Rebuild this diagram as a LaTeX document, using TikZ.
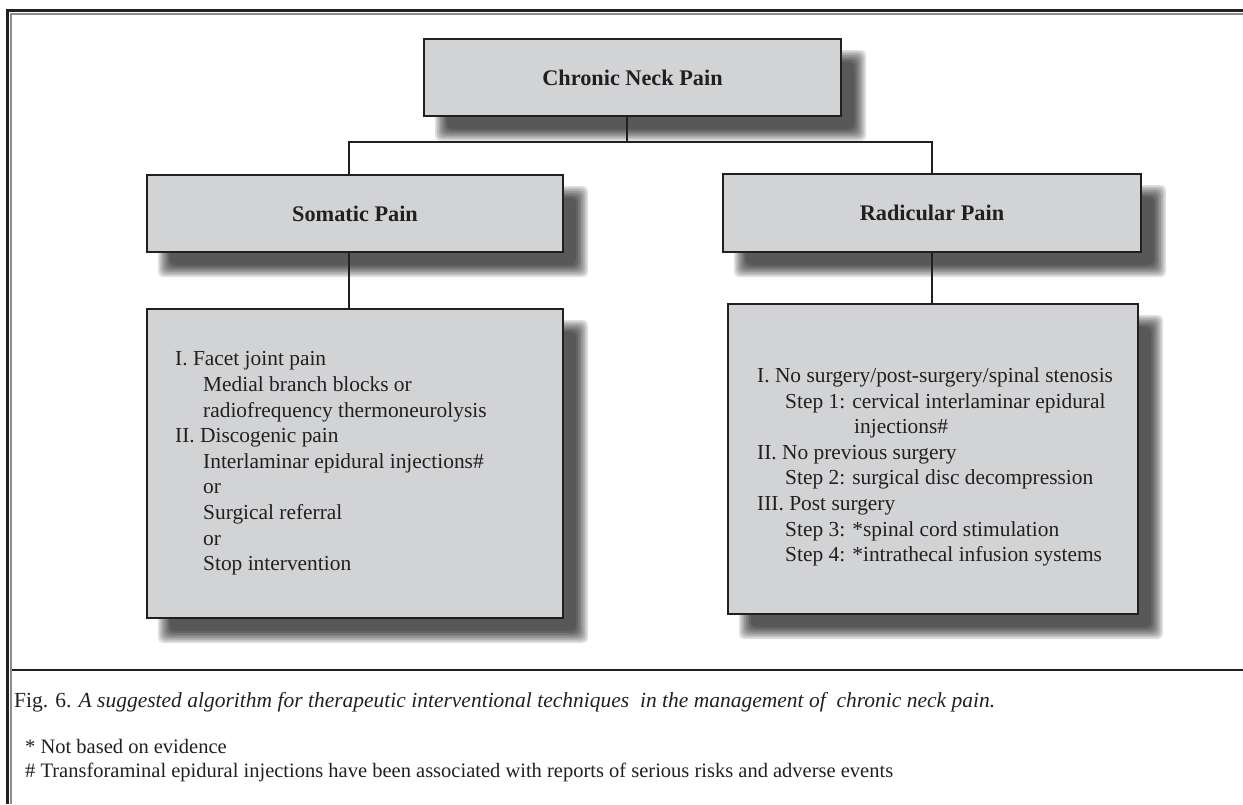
\documentclass[tikz,border=0pt]{standalone}
\usepackage{fontspec}
\setmainfont{Liberation Serif}
\definecolor{ink}{HTML}{231F20}
\definecolor{boxfill}{HTML}{D1D3D4}
\definecolor{framegray}{HTML}{8C8C8C}
\pgfdeclarelayer{bg}
\pgfsetlayers{bg,main}
\tikzset{
  box/.style={draw=ink, fill=boxfill, line width=2pt, anchor=north west, inner sep=0pt},
  titletext/.style={font={\fontsize{22.3}{26}\selectfont\bfseries}, text=ink},
  bodytext/.style={font={\fontsize{21.4}{25.6}\selectfont}, text=ink, align=left, inner sep=0pt},
  capttext/.style={font={\fontsize{21.5}{26}\selectfont}, text=ink, inner sep=0pt, anchor=base west},
  conn/.style={draw=ink, line width=2.4pt},
}
\newcommand\softshadow[1]{%
  \foreach \k in {0,...,7}{%
    \fill[black, opacity=0.125, rounded corners=5pt]
      ([shift={({18-6+1.7*\k},{18-6+1.7*\k})}]#1.north west) rectangle
      ([shift={({18+6-1.7*\k},{18+6-1.7*\k})}]#1.south east);
  }%
}
\newcommand\ind{\hspace*{28pt}}
\begin{document}
\begin{tikzpicture}[x=1pt,y=-1pt]
\useasboundingbox (0,0) rectangle (1243,804);
% frame
\draw[ink, line width=3pt] (7,804) -- (7,10.5) -- (1243,10.5);
\draw[framegray, line width=2pt] (10.5,804) -- (10.5,14) -- (1243,14);
\draw[ink, line width=2.2pt] (12,670) -- (1243,670);
% boxes
\node[box, minimum width=417pt, minimum height=77pt, titletext] (cnp) at (423,38) {Chronic Neck Pain};
\node[box, minimum width=416pt, minimum height=77pt, titletext] (som) at (146,174) {Somatic Pain};
\node[box, minimum width=418pt, minimum height=78pt, titletext] (rad) at (722,173) {Radicular Pain};
\node[box, minimum width=416pt, minimum height=309pt] (soml) at (146,308) {};
\node[box, minimum width=410pt, minimum height=310pt] (radl) at (727,303) {};
% box texts
\node[bodytext, anchor=west] (somt) at ([xshift=29pt]soml.west) {I. Facet joint pain\\
\ind Medial branch blocks or\\
\ind radiofrequency thermoneurolysis\\
II. Discogenic pain\\
\ind Interlaminar epidural injections\#\\
\ind or\\
\ind Surgical referral\\
\ind or\\
\ind Stop intervention};
\node[bodytext, anchor=west] (radt) at ([xshift=30pt,yshift=-8pt]radl.west) {I. No surgery/post-surgery/spinal stenosis\\
\ind Step 1: cervical interlaminar epidural\\
\hspace*{97pt}injections\#\\
II. No previous surgery\\
\ind Step 2: surgical disc decompression\\
III. Post surgery\\
\ind Step 3: *spinal cord stimulation\\
\ind Step 4: *intrathecal infusion systems};
% caption
\node[capttext] (cap) at (14,707) {Fig. 6. \textit{A suggested algorithm for therapeutic interventional techniques\ \ in the management of\ \ chronic neck pain.}};
\node[capttext, font={\fontsize{20.5}{24}\selectfont}] (fn1) at (25,753) {* Not based on evidence};
\node[capttext, font={\fontsize{20.5}{24}\selectfont}] (fn2) at (25,777) {\# Transforaminal epidural injections have been associated with reports of serious risks and adverse events};
% shadows and connectors
\begin{pgfonlayer}{bg}
\softshadow{cnp}
\softshadow{som}
\softshadow{rad}
\softshadow{soml}
\softshadow{radl}
\coordinate (j) at (627,142);
\draw[conn] (cnp.south -| j) -- (j);
\draw[conn] (som.north -| 349,0) |- (j) -| (rad.north);
\draw[conn] (som.south -| 349,0) -- (soml.north -| 349,0);
\draw[conn] (rad.south) -- (radl.north -| rad.south);
\end{pgfonlayer}
\end{tikzpicture}
\end{document}
